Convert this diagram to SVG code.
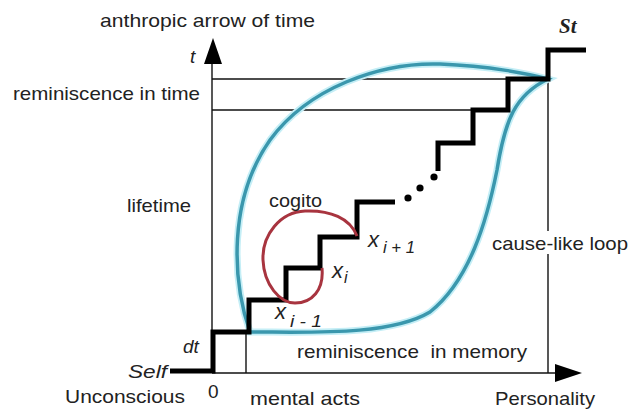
<svg xmlns="http://www.w3.org/2000/svg" width="640" height="412" viewBox="0 0 640 412">
<style>
.thin{fill:none;stroke:#111;stroke-width:1.4}
.stair{fill:none;stroke:#000;stroke-width:5;stroke-linejoin:miter;stroke-linecap:butt}
.lbl{font-family:"Liberation Sans",Arial,sans-serif;font-size:19px;fill:#222}
.it{font-style:italic}
.var{font-family:"Liberation Sans",Arial,sans-serif;font-size:22px;font-style:italic;fill:#222}
.sub{font-family:"Liberation Sans",Arial,sans-serif;font-size:16px;font-style:italic;fill:#222}
.loop{fill:none;stroke:#3a97ad;stroke-width:3.5}
.halo{fill:none;stroke:#c4eef6;stroke-width:7}
</style>
<rect width="640" height="412" fill="#fff"/>
<g id="connectors">
  <g id="axes">
    <line class="thin" x1="212" y1="373" x2="212" y2="62"/>
    <polygon points="213,38 222,64 204,64" fill="#000"/>
    <line class="thin" x1="212" y1="373" x2="557" y2="373"/>
    <polygon points="582,373 555,364 555,382" fill="#000"/>
    <line class="thin" x1="212" y1="79" x2="548" y2="79"/>
    <line class="thin" x1="212" y1="110" x2="473" y2="110"/>
    <line class="thin" x1="548" y1="79" x2="548" y2="373"/>
    <line class="thin" x1="246" y1="332" x2="246" y2="373"/>
  </g>
  <g id="loop">
    <path class="halo" d="M250,332 C232,280 228,200 270,140 C308,88 380,62 440,64 C490,66 530,74 548,79 C515,95 505,120 497,170 C487,220 470,280 430,312 C390,336 310,332 250,332 Z"/>
    <path class="loop" d="M250,332 C232,280 228,200 270,140 C308,88 380,62 440,64 C490,66 530,74 548,79 C515,95 505,120 497,170 C487,220 470,280 430,312 C390,336 310,332 250,332 Z"/>
  </g>
  <g id="staircase">
    <path class="stair" d="M170,371 H213 V332 H249 V300 H286 V268 H320 V237 H357 V202 H395"/>
    <path class="stair" d="M438,171 V143 H473 V110 H508 V79 H548 V50 H586"/>
    <circle cx="408" cy="198" r="3.6" fill="#000"/>
    <circle cx="420" cy="188" r="3.6" fill="#000"/>
    <circle cx="434" cy="177" r="3.6" fill="#000"/>
  </g>
  <g id="cogito-loop">
    <path d="M357,236 C350,218 330,210 305,211 C280,212 262,235 263,260 C264,285 280,303 295,303 C312,303 324,290 322,268" fill="none" stroke="#a8343f" stroke-width="3"/>
  </g>
</g>
<g id="labels">
  <text class="lbl" x="100" y="27" textLength="215" lengthAdjust="spacingAndGlyphs">anthropic arrow of time</text>
  <text class="lbl it" x="190" y="63">t</text>
  <text class="lbl" x="13" y="100" textLength="187" lengthAdjust="spacingAndGlyphs">reminiscence in time</text>
  <text class="lbl" x="127" y="212" textLength="64" lengthAdjust="spacingAndGlyphs">lifetime</text>
  <text class="lbl" x="269" y="207" textLength="53" lengthAdjust="spacingAndGlyphs">cogito</text>
  <g id="x-i-minus-1"><text class="var" x="275" y="319">x</text><text class="sub" x="290" y="327" textLength="32" lengthAdjust="spacingAndGlyphs">i - 1</text></g>
  <g id="x-i"><text class="var" x="332" y="278">x</text><text class="sub" x="344" y="283">i</text></g>
  <g id="x-i-plus-1"><text class="var" x="368" y="247">x</text><text class="sub" x="383" y="253" textLength="32" lengthAdjust="spacingAndGlyphs">i + 1</text></g>
  <rect x="490" y="231" width="140" height="23" fill="#fff"/>
  <text class="lbl" x="492" y="250" textLength="136" lengthAdjust="spacingAndGlyphs">cause-like loop</text>
  <text class="lbl" x="297" y="358" textLength="230" lengthAdjust="spacingAndGlyphs" xml:space="preserve">reminiscence  in memory</text>
  <text class="lbl it" x="128" y="378" textLength="39" lengthAdjust="spacingAndGlyphs">Self</text>
  <text class="lbl it" x="183" y="353">dt</text>
  <text class="lbl" x="208" y="398">0</text>
  <text class="lbl" x="65" y="403" textLength="120" lengthAdjust="spacingAndGlyphs">Unconscious</text>
  <text class="lbl" x="250" y="405" textLength="110" lengthAdjust="spacingAndGlyphs">mental acts</text>
  <text class="lbl" x="495" y="405" textLength="100" lengthAdjust="spacingAndGlyphs">Personality</text>
  <text x="559" y="33" font-family="'Liberation Serif','Times New Roman',serif" font-size="21" font-style="italic" font-weight="bold" fill="#222">St</text>
</g>
</svg>
